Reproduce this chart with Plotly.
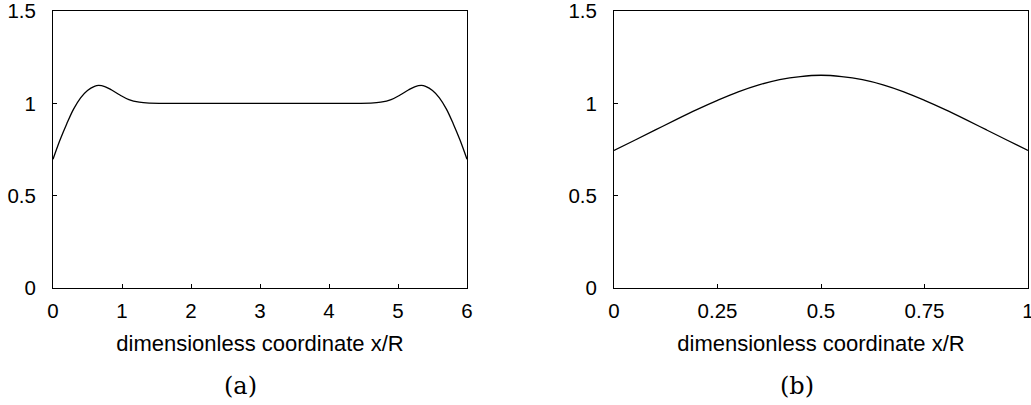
import plotly.graph_objects as go
from plotly.subplots import make_subplots

# Profile (a): long domain, x/R from 0 to 6
xa = [0, 0.1, 0.2, 0.3, 0.4, 0.5, 0.6, 0.66, 0.75, 0.85, 0.97, 1.1, 1.25, 1.4, 1.6,
      2.0, 2.5, 3.0, 3.5, 4.0,
      4.4, 4.6, 4.75, 4.9, 5.03, 5.15, 5.25, 5.34, 5.4, 5.5, 5.6, 5.7, 5.8, 5.9, 6.0]
ya = [0.697, 0.80, 0.89, 0.97, 1.03, 1.07, 1.092, 1.097, 1.091, 1.072, 1.045, 1.02,
      1.006, 1.001, 1.0,
      1.0, 1.0, 1.0, 1.0, 1.0,
      1.0, 1.001, 1.006, 1.02, 1.045, 1.072, 1.091, 1.097, 1.092, 1.07, 1.03, 0.97,
      0.89, 0.80, 0.697]

# Profile (b): short domain, x/R from 0 to 1
xb = [0, 0.05, 0.1, 0.15, 0.2, 0.25, 0.3, 0.35, 0.4, 0.45, 0.5,
      0.55, 0.6, 0.65, 0.7, 0.75, 0.8, 0.85, 0.9, 0.95, 1.0]
yb = [0.745, 0.80, 0.856, 0.912, 0.966, 1.016, 1.062, 1.10, 1.128, 1.145, 1.152,
      1.145, 1.128, 1.10, 1.062, 1.016, 0.966, 0.912, 0.856, 0.80, 0.745]

xticks_a = [0, 1, 2, 3, 4, 5, 6]
xticks_b = [0, 0.25, 0.5, 0.75, 1]
xticktext_b = ["0", "0.25", "0.5", "0.75", "1"]
yticks = [0, 0.5, 1, 1.5]
yticktext = ["0", "0.5", "1", "1.5"]
xlabel = "dimensionless coordinate x/R"
panel_labels = ["(a)", "(b)"]

W, H = 1031, 405
tickfont = dict(family="Liberation Sans, Arial, sans-serif", size=20.5, color="black")
titlefont = dict(family="Liberation Sans, Arial, sans-serif", size=22, color="black")

fig = make_subplots(rows=1, cols=2)
line = dict(color="black", width=1.3, shape="spline", smoothing=1)
fig.add_trace(go.Scatter(x=xa, y=ya, mode="lines", line=line, showlegend=False), row=1, col=1)
fig.add_trace(go.Scatter(x=xb, y=yb, mode="lines", line=line, showlegend=False), row=1, col=2)

ydom = [1 - 288 / H, 1 - 11 / H]
axis_common = dict(showline=True, linecolor="black", linewidth=1, mirror=True,
                   ticks="inside", ticklen=4, tickwidth=1, tickcolor="black",
                   showgrid=False, zeroline=False, tickfont=tickfont, automargin=False,
                   ticklabeloverflow="allow")

fig.update_xaxes(domain=[53 / W, 467 / W], range=[0, 6], tickvals=xticks_a,
                 ticktext=[str(v) for v in xticks_a], ticklabelstandoff=4,
                 title=dict(text=xlabel, font=titlefont, standoff=15), row=1, col=1, **axis_common)
fig.update_xaxes(domain=[614 / W, 1028 / W], range=[0, 1], tickvals=xticks_b,
                 ticktext=xticktext_b, ticklabelstandoff=4,
                 title=dict(text=xlabel, font=titlefont, standoff=15), row=1, col=2, **axis_common)
fig.update_yaxes(domain=ydom, range=[0, 1.5], tickvals=yticks, ticktext=yticktext,
                 ticklabelstandoff=12, row=1, col=1, **axis_common)
fig.update_yaxes(domain=ydom, range=[0, 1.5], tickvals=yticks, ticktext=yticktext,
                 ticklabelstandoff=12, row=1, col=2, **axis_common)

serif = dict(family="DejaVu Serif, Liberation Serif, serif", size=24, color="black")
for label, xc in zip(panel_labels, [240 / W, 797 / W]):
    fig.add_annotation(text=label, x=xc, y=1 - 386 / H, xref="paper", yref="paper",
                       xanchor="center", yanchor="middle", showarrow=False, font=serif)

fig.update_layout(width=W, height=H, margin=dict(l=0, r=0, t=0, b=0),
                  paper_bgcolor="white", plot_bgcolor="white")
fig.write_html("out.html")
